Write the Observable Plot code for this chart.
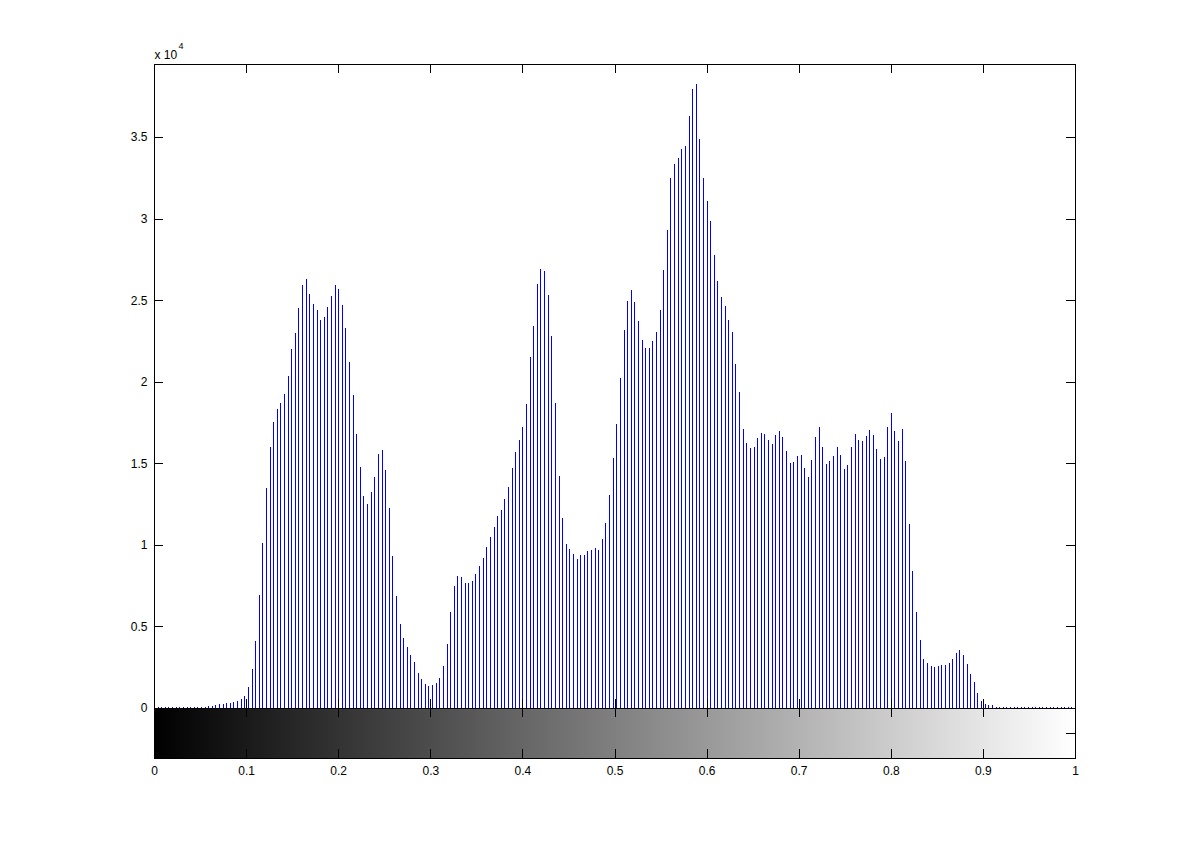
<!DOCTYPE html>
<html>
<head>
<meta charset="utf-8">
<script src="https://cdn.jsdelivr.net/npm/d3@7"></script>
<script src="https://cdn.jsdelivr.net/npm/@observablehq/plot@0.6"></script>
<style>
  html, body { margin: 0; padding: 0; background: #ffffff; }
  #chart { width: 1188px; height: 854px; }
</style>
</head>
<body>
<div id="chart"></div>
<script>
// ---------- data ----------
// 256 gray-level bins (0 .. 255), positioned at i/255 on the intensity axis
const binIndex = d3.range(256);
const counts = [
  60, 60, 60, 60, 60, 60, 60, 60, 60, 60,
  60, 60, 60, 60, 60, 123, 123, 184, 245, 245,
  307, 307, 350, 410, 552, 745, 1288, 2391, 4108, 6928,
  10117, 13490, 16003, 17538, 18335, 18703, 19255, 20358, 22014, 22995,
  24528, 25939, 26307, 25387, 24774, 24406, 23793, 23977, 24590, 25264,
  25939, 25693, 24713, 23302, 21216, 19194, 16800, 14776, 13003, 12508,
  13246, 14165, 15576, 15821, 14595, 12263, 9319, 6866, 5150, 4292,
  3740, 3249, 2820, 2146, 1778, 1472, 1349, 1410, 1533, 1839,
  2575, 3924, 5886, 7480, 8093, 8032, 7664, 7664, 7786, 8215,
  8706, 9197, 9871, 10484, 11097, 11771, 12139, 12814, 13550, 14714,
  15695, 16431, 17228, 18638, 21520, 23420, 25996, 26915, 26792, 25321,
  22807, 18700, 14224, 11649, 10055, 9748, 9442, 9135, 9380, 9380,
  9626, 9687, 9810, 9687, 10380, 11350, 13070, 15340, 17430, 20240,
  23194, 24972, 25628, 24892, 23752, 22581, 22072, 22072, 22507, 23065,
  24408, 26873, 29313, 32489, 33353, 33733, 34266, 34469, 36296, 37945,
  38251, 34898, 32489, 31090, 29870, 27786, 26186, 25174, 24665, 23776,
  23040, 21109, 19404, 17110, 16260, 15950, 16030, 16570, 16860, 16799,
  16431, 16186, 16738, 16983, 16615, 15757, 15021, 15082, 15450, 15511,
  14714, 14163, 15205, 16615, 17228, 16002, 14960, 15144, 15450, 16002,
  15511, 14653, 14898, 16002, 16799, 16431, 16370, 16676, 17044, 16738,
  15879, 15266, 15389, 17228, 18086, 16983, 16370, 17105, 15144, 11281,
  8399, 5886, 4169, 3004, 2759, 2575, 2514, 2575, 2636, 2636,
  2759, 3004, 3372, 3556, 3249, 2698, 2085, 1594, 920, 429,
  245, 184, 184, 61, 60, 60, 60, 60, 60, 60,
  60, 60, 60, 60, 60, 60, 60, 60, 60, 60,
  60, 60, 60, 60, 60, 60
];
const xTickValues = [0, 0.1, 0.2, 0.3, 0.4, 0.5, 0.6, 0.7, 0.8, 0.9, 1];
const yTickValues = [0, 5000, 10000, 15000, 20000, 25000, 30000, 35000];
const exponentLabel = "x 10";
const exponentPower = "4";

// ---------- layout ----------
const W = 1188, H = 854;
const ML = 154, MR = 113, MT = 64, MB = 96;
const plotW = W - ML - MR;           // 921
const plotH = H - MT - MB;           // 694
const Y_MAX = 39485;                 // top of histogram axes
const CB_MIN = -3066;                // bottom of colour-bar strip
const yPerPx = (Y_MAX - CB_MIN) / plotH;
const xPerPx = 1 / plotW;
const TICK = 9;

const bins = binIndex.map(i => ({
  x: i / 255,
  x1: Math.max(0, (i - 0.5) / 255),
  x2: Math.min(1, (i + 0.5) / 255),
  shade: d3.rgb(i, i, i).formatHex(),
  count: counts[i]
}));

const black = "#000000";
const tickStyle = {stroke: black, strokeWidth: 1, shapeRendering: "crispEdges"};

const chart = Plot.plot({
  width: W,
  height: H,
  marginLeft: ML,
  marginRight: MR,
  marginTop: MT,
  marginBottom: MB,
  x: {domain: [0, 1], label: null},
  y: {domain: [CB_MIN, Y_MAX], label: null},
  color: {type: "identity"},
  style: {
    background: "#ffffff",
    color: black,
    fontFamily: "'Liberation Sans', Arial, Helvetica, sans-serif",
    fontSize: "12px",
    overflow: "visible"
  },
  marks: [
    // grayscale colour bar
    Plot.rect(bins, {x1: "x1", x2: "x2", y1: CB_MIN, y2: 0, fill: d => d.shade, shapeRendering: "crispEdges"}),
    // histogram stems
    Plot.ruleX(bins, {x: "x", y1: 0, y2: "count", stroke: "#0000ff", strokeWidth: 1, shapeRendering: "crispEdges"}),
    // axes boxes
    Plot.frame({stroke: black, strokeWidth: 1, shapeRendering: "crispEdges"}),
    Plot.ruleY([0], {stroke: black, strokeWidth: 1, shapeRendering: "crispEdges"}),
    // x tick marks (top of histogram, bottom of histogram, top and bottom of colour bar)
    Plot.ruleX(xTickValues, {x: d => d, y1: Y_MAX, y2: Y_MAX - TICK * yPerPx, ...tickStyle}),
    Plot.ruleX(xTickValues, {x: d => d, y1: 0, y2: TICK * yPerPx, ...tickStyle}),
    Plot.ruleX(xTickValues, {x: d => d, y1: 0, y2: -TICK * yPerPx, ...tickStyle}),
    Plot.ruleX(xTickValues, {x: d => d, y1: CB_MIN, y2: CB_MIN + TICK * yPerPx, ...tickStyle}),
    // y tick marks left & right
    Plot.ruleY(yTickValues, {y: d => d, x1: 0, x2: TICK * xPerPx, ...tickStyle}),
    Plot.ruleY(yTickValues, {y: d => d, x1: 1 - TICK * xPerPx, x2: 1, ...tickStyle}),
    // colour bar y tick
    Plot.ruleY([CB_MIN / 2], {y: d => d, x1: 0, x2: TICK * xPerPx, ...tickStyle}),
    Plot.ruleY([CB_MIN / 2], {y: d => d, x1: 1 - TICK * xPerPx, x2: 1, ...tickStyle}),
    // tick labels
    Plot.axisY(yTickValues, {
      anchor: "left", tickSize: 0, tickPadding: 7, label: null,
      tickFormat: d => String(d / 10000)
    }),
    Plot.axisX(xTickValues, {
      anchor: "bottom", tickSize: 0, tickPadding: 8, label: null,
      tickFormat: d => String(+d.toFixed(1))
    }),
    // exponent label
    Plot.text([exponentLabel], {
      frameAnchor: "top-left", text: d => d, textAnchor: "start",
      lineAnchor: "bottom", dy: -6, fontSize: 12, fill: black
    }),
    Plot.text([exponentPower], {
      frameAnchor: "top-left", text: d => d, textAnchor: "start",
      lineAnchor: "bottom", dx: 24, dy: -16, fontSize: 9, fill: black
    })
  ]
});

document.getElementById("chart").appendChild(chart);
</script>
</body>
</html>
